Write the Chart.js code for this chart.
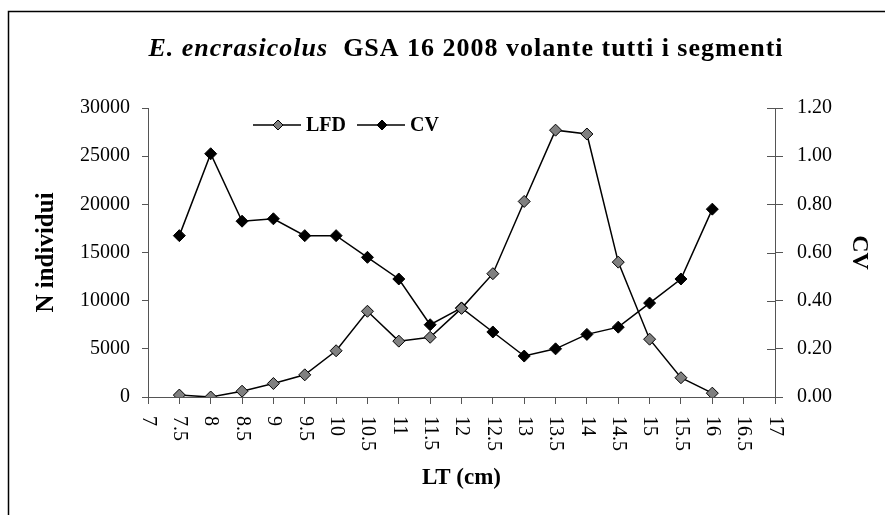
<!DOCTYPE html>
<html>
<head>
<meta charset="utf-8">
<script src="https://cdn.jsdelivr.net/npm/chart.js@4.4.1/dist/chart.umd.min.js"></script>
<style>
  body { margin: 0; background: #fff; }
</style>
</head>
<body>
<canvas id="lfd" width="885" height="515"></canvas>
<script>
var lengths = ['7', '7.5', '8', '8.5', '9', '9.5', '10', '10.5', '11', '11.5', '12', '12.5',
               '13', '13.5', '14', '14.5', '15', '15.5', '16', '16.5', '17'];
var lfdValues = [null, 200, 0, 600, 1400, 2300, 4800, 8900, 5800, 6200, 9200, 12800,
                 20300, 27700, 27300, 14000, 6000, 2000, 400, null, null];
var cvValues = [null, 0.67, 1.01, 0.73, 0.74, 0.67, 0.67, 0.58, 0.49, 0.30, 0.37, 0.27,
                0.17, 0.20, 0.26, 0.29, 0.39, 0.49, 0.78, null, null];

var serif = '"Liberation Serif", "Times New Roman", serif';
Chart.defaults.font.family = serif;
Chart.defaults.color = '#000';

// title with italic species name, frame, legend and rotated x labels
var extras = {
    id: 'extras',
    afterDraw: function (chart) {
        var ctx = chart.ctx;
        var area = chart.chartArea;
        ctx.save();

        // frame (cut off at right and bottom like the original)
        ctx.strokeStyle = '#000';
        ctx.lineWidth = 1.5;
        ctx.strokeRect(8.5, 11.5, 900, 600);

        // title
        var part1 = 'E. encrasicolus';
        var part2 = '  GSA 16 2008 volante tutti i segmenti';
        ctx.fillStyle = '#000';
        ctx.textBaseline = 'alphabetic';
        ctx.textAlign = 'left';
        ctx.letterSpacing = '1px';
        ctx.font = 'italic bold 26px ' + serif;
        var w1 = ctx.measureText(part1).width;
        ctx.font = 'bold 26px ' + serif;
        var w2 = ctx.measureText(part2).width;
        var x0 = 466 - (w1 + w2) / 2;
        ctx.font = 'italic bold 26px ' + serif;
        ctx.fillText(part1, x0, 56);
        ctx.font = 'bold 26px ' + serif;
        ctx.fillText(part2, x0 + w1, 56);
        ctx.letterSpacing = '0px';

        // x tick labels, rotated clockwise
        var xs = chart.scales.x;
        ctx.font = '20px ' + serif;
        ctx.textBaseline = 'middle';
        ctx.textAlign = 'left';
        for (var i = 0; i < lengths.length; i++) {
            var px = xs.getPixelForTick(i);
            ctx.save();
            ctx.translate(px, xs.top + 19);
            ctx.rotate(Math.PI / 2);
            ctx.fillText(lengths[i], 0, 0);
            ctx.restore();
        }

        // inner part of the right axis ticks
        var yr = chart.scales.y1;
        ctx.strokeStyle = '#555';
        ctx.lineWidth = 1;
        yr.ticks.forEach(function (t, k) {
            var py = Math.round(yr.getPixelForTick(k)) + 0.5;
            ctx.beginPath();
            ctx.moveTo(area.right - 8, py);
            ctx.lineTo(area.right, py);
            ctx.stroke();
        });

        // legend
        var ly = area.top + 17;
        var items = [
            { x: 253, label: 'LFD', fill: '#808080' },
            { x: 357, label: 'CV', fill: '#000' }
        ];
        ctx.font = 'bold 20px ' + serif;
        ctx.textBaseline = 'middle';
        items.forEach(function (it) {
            ctx.strokeStyle = '#000';
            ctx.lineWidth = 1.5;
            ctx.beginPath();
            ctx.moveTo(it.x, ly);
            ctx.lineTo(it.x + 48, ly);
            ctx.stroke();
            var cx = it.x + 25;
            ctx.beginPath();
            ctx.moveTo(cx, ly - 5);
            ctx.lineTo(cx + 5, ly);
            ctx.lineTo(cx, ly + 5);
            ctx.lineTo(cx - 5, ly);
            ctx.closePath();
            ctx.fillStyle = it.fill;
            ctx.fill();
            ctx.lineWidth = 1;
            ctx.stroke();
            ctx.fillStyle = '#000';
            ctx.fillText(it.label, it.x + 53, ly + 1);
        });

        ctx.restore();
    }
};

new Chart(document.getElementById('lfd').getContext('2d'), {
    type: 'line',
    data: {
        labels: lengths,
        datasets: [{
            label: 'LFD',
            data: lfdValues,
            yAxisID: 'y',
            borderColor: '#000',
            borderWidth: 1.5,
            backgroundColor: '#808080',
            pointStyle: 'rectRot',
            pointRadius: 6,
            pointBorderColor: '#000',
            pointBorderWidth: 1,
            pointBackgroundColor: '#808080',
            tension: 0
        }, {
            label: 'CV',
            data: cvValues,
            yAxisID: 'y1',
            borderColor: '#000',
            borderWidth: 1.5,
            backgroundColor: '#000',
            pointStyle: 'rectRot',
            pointRadius: 6,
            pointBorderColor: '#000',
            pointBorderWidth: 1,
            pointBackgroundColor: '#000',
            tension: 0
        }]
    },
    options: {
        responsive: false,
        animation: false,
        layout: { padding: { top: 108 } },
        plugins: {
            legend: { display: false },
            title: { display: false },
            tooltip: { enabled: false }
        },
        scales: {
            x: {
                type: 'category',
                offset: false,
                afterFit: function (s) { s.height = 118; },
                grid: { display: true, drawOnChartArea: false, offset: false, tickLength: 7, color: '#555' },
                border: { display: true, color: '#555', width: 1 },
                ticks: { display: false, autoSkip: false },
                title: {
                    display: true,
                    text: 'LT (cm)',
                    font: { size: 23, weight: 'bold' },
                    padding: { top: 0, bottom: 23 }
                }
            },
            y: {
                position: 'left',
                min: 0,
                max: 30000,
                afterFit: function (s) { s.width = 148; },
                grid: { drawOnChartArea: false, tickLength: 6, color: '#555' },
                border: { display: true, color: '#555', width: 1 },
                ticks: {
                    stepSize: 5000,
                    padding: 12,
                    font: { size: 20 },
                    callback: function (v) { return String(v); }
                },
                title: {
                    display: true,
                    text: 'N individui',
                    font: { size: 25, weight: 'bold' },
                    padding: { top: 32, bottom: 0 }
                }
            },
            y1: {
                position: 'right',
                min: 0,
                max: 1.2,
                afterFit: function (s) { s.width = 110; },
                grid: { drawOnChartArea: false, tickLength: 8, color: '#555' },
                border: { display: true, color: '#555', width: 1 },
                ticks: {
                    stepSize: 0.2,
                    padding: 14,
                    font: { size: 20 },
                    callback: function (v) { return v.toFixed(2); }
                },
                title: {
                    display: true,
                    text: 'CV',
                    font: { size: 24, weight: 'bold' },
                    padding: { top: 11, bottom: 0 }
                }
            }
        }
    },
    plugins: [extras]
});
</script>
</body>
</html>
